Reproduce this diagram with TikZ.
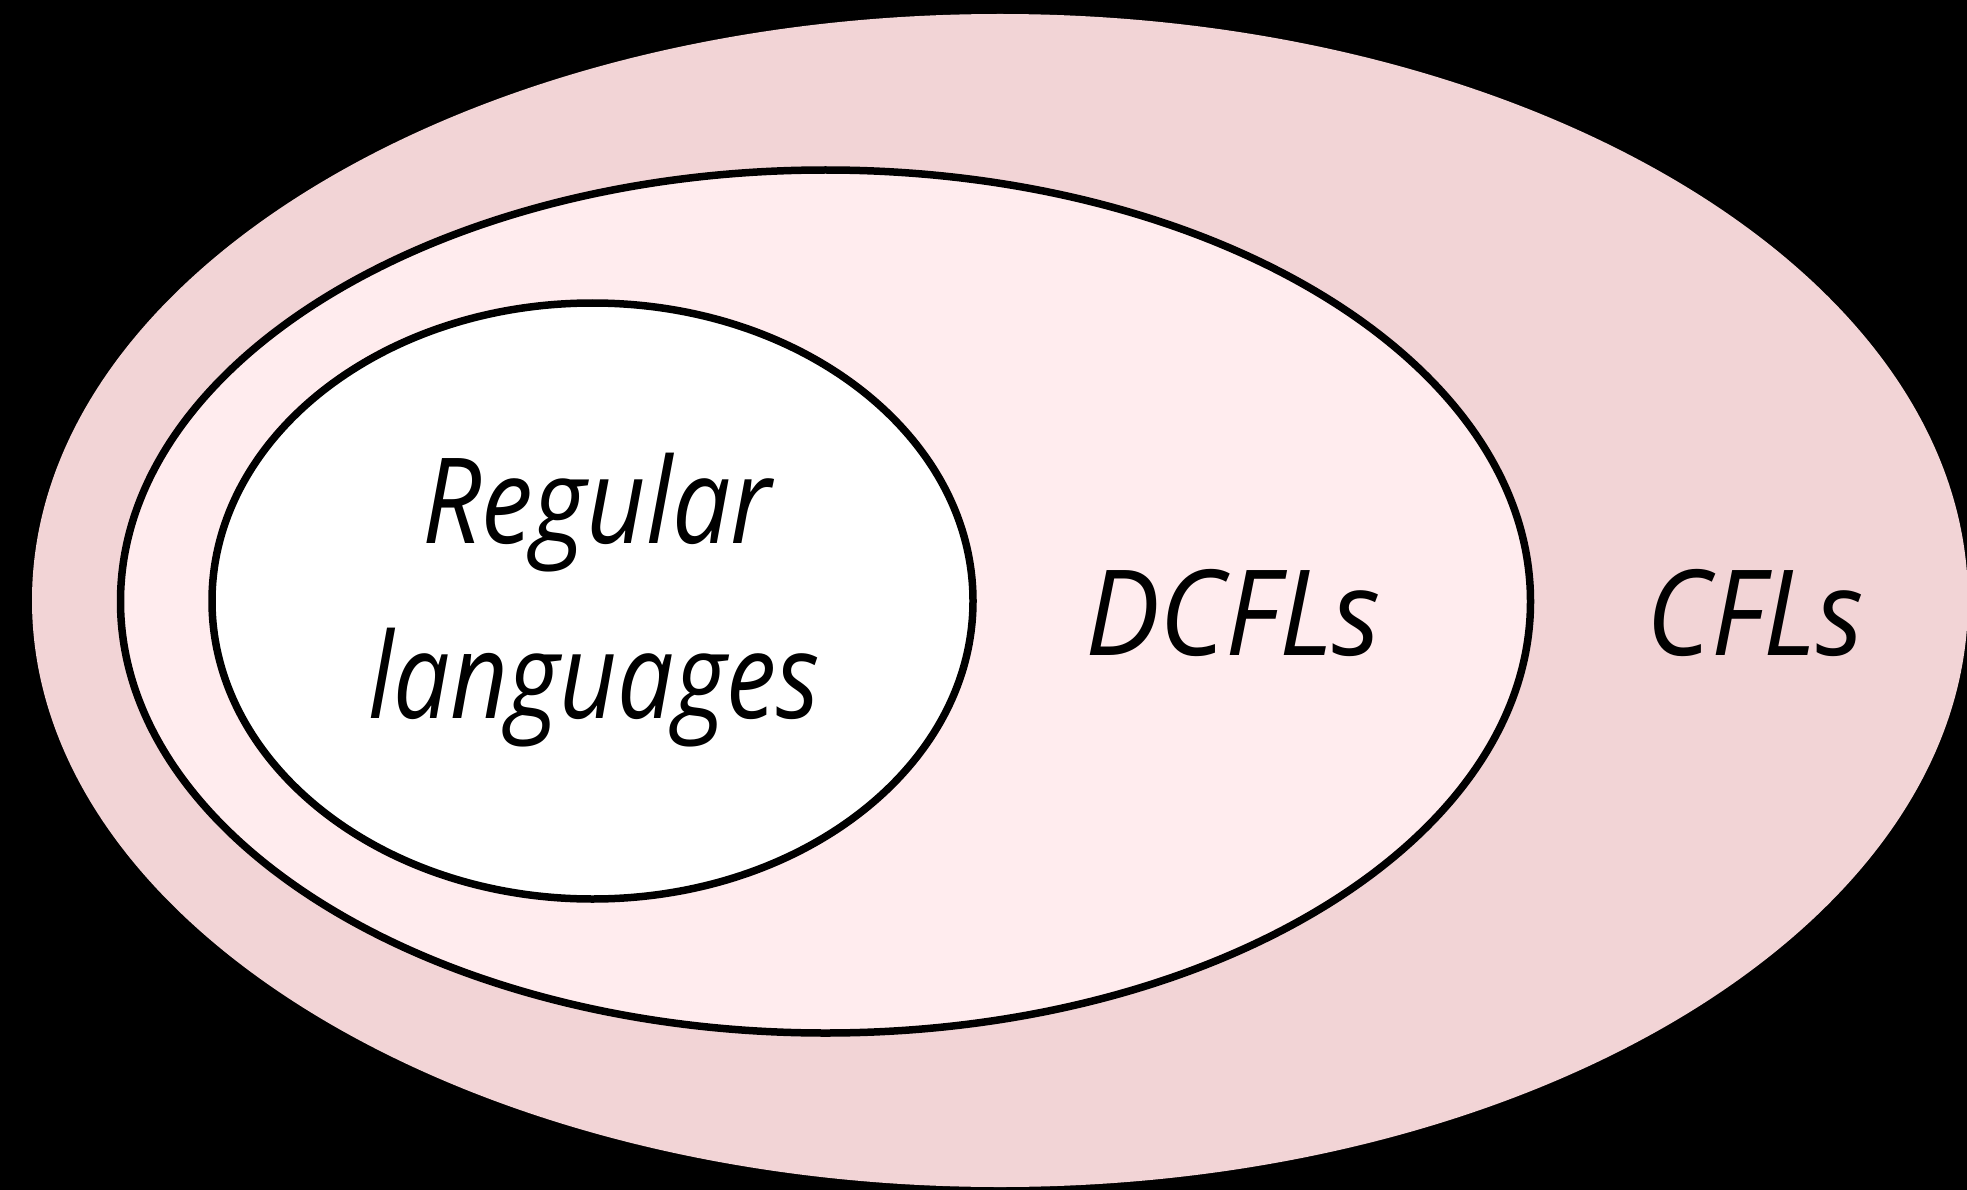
\documentclass[tikz,border=0pt]{standalone}
\usepackage{fontspec}
\usepackage{graphicx}
\setmainfont{Open Sans}
\definecolor{cflpink}{RGB}{242,212,214}
\definecolor{dcflpink}{RGB}{255,236,238}
\begin{document}
\begin{tikzpicture}[x=1pt,y=-1pt,
  setline/.style={draw=black,line width=7.5pt},
  label/.style={inner sep=0pt,anchor=base,font=\fontsize{119}{140}\selectfont\itshape}]
\useasboundingbox (0,0) rectangle (1967,1190);
% black ground
\fill[black] (0,0) rectangle (1967,1190);
% context-free languages
\fill[cflpink] (1000,600.5) ellipse [x radius=968, y radius=586.5];
% deterministic context-free languages
\filldraw[fill=dcflpink,setline] (825.5,601.5) ellipse [x radius=705, y radius=431.5];
% regular languages
\filldraw[fill=white,setline] (592.5,601) ellipse [x radius=380.5, y radius=298];
% labels
\node[label] (reg)  at (597,543) {\resizebox{350pt}{\height}{Regular}};
\node[label] (lang) at (594,718) {\resizebox{452pt}{\height}{languages}};
\node[label] (dcfl) at (1233,655) {\resizebox{296pt}{\height}{DCFLs}};
\node[label] (cfl)  at (1755,655) {\resizebox{217pt}{\height}{CFLs}};
\end{tikzpicture}
\end{document}
